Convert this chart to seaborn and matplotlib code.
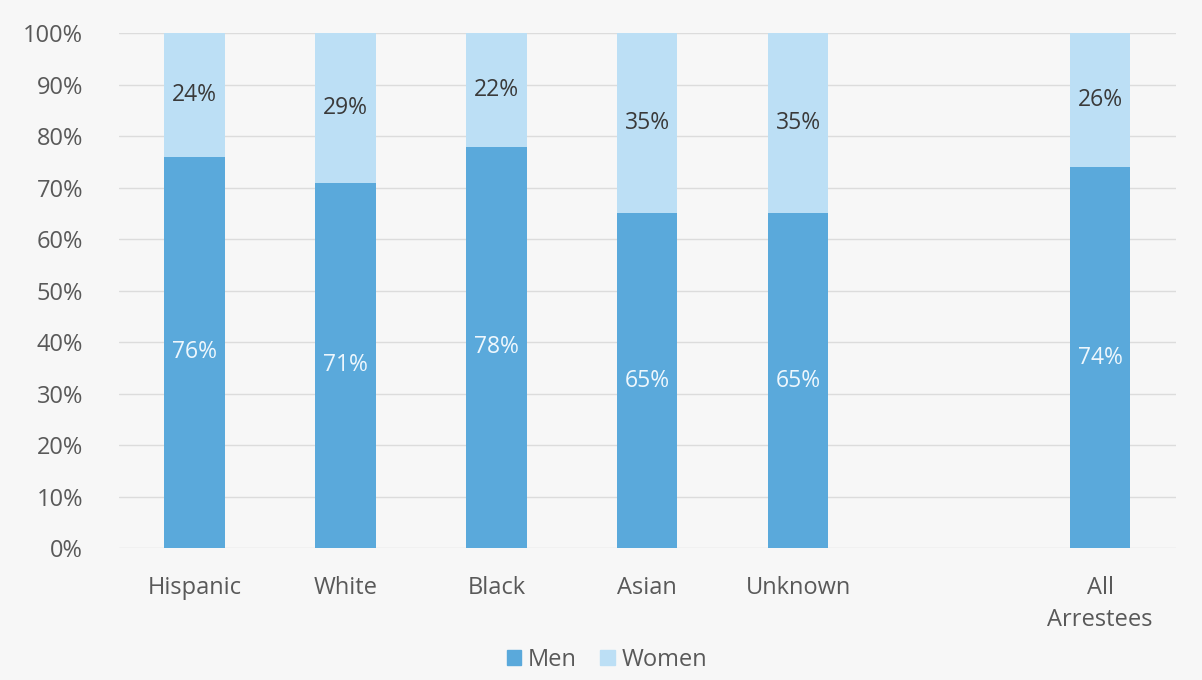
import matplotlib
matplotlib.use("Agg")
import matplotlib.pyplot as plt
import seaborn as sns
import pandas as pd
from matplotlib.patches import Patch

categories = ["Hispanic", "White", "Black", "Asian", "Unknown", "All\nArrestees"]
men = [76, 71, 78, 65, 65, 74]
women = [24, 29, 22, 35, 35, 26]
slot_order = ["Hispanic", "White", "Black", "Asian", "Unknown", " ", "All\nArrestees"]

men_color = "#5aa9db"
women_color = "#bcdff5"
text_gray = "#595959"

df = pd.DataFrame({"group": categories, "Men": men, "Women": women})
df["Total"] = df["Men"] + df["Women"]

sns.set_theme(style="white")
plt.rcParams["font.family"] = ["Open Sans", "DejaVu Sans"]

fig = plt.figure(figsize=(12.02, 6.80), dpi=100, facecolor="#f7f7f7")
ax = fig.add_axes([0.099, 0.194, 0.879, 0.757])
ax.set_facecolor("#f7f7f7")

sns.barplot(data=df, x="group", y="Total", order=slot_order, color=women_color,
            width=0.4, saturation=1, ax=ax, errorbar=None, linewidth=0)
sns.barplot(data=df, x="group", y="Men", order=slot_order, color=men_color,
            width=0.4, saturation=1, ax=ax, errorbar=None, linewidth=0)

for i, cat in enumerate(slot_order):
    if cat not in categories:
        continue
    k = categories.index(cat)
    m, w = men[k], women[k]
    ax.text(i, m / 2, f"{m}%", ha="center", va="center", color="#eef7fd", fontsize=16.5)
    ax.text(i, m + w / 2, f"{w}%", ha="center", va="center", color="#3a3a3a", fontsize=16.5)

ax.set_ylim(0, 100)
ax.set_xlim(-0.5, len(slot_order) - 0.5)
ax.set_yticks(range(0, 101, 10))
ax.set_yticklabels([f"{v}%" for v in range(0, 101, 10)])
ax.yaxis.grid(True, color="#dcdcdc", linewidth=1)
ax.set_axisbelow(True)
for s in ax.spines.values():
    s.set_visible(False)
ax.tick_params(axis="both", length=0, labelsize=17, colors=text_gray)
ax.tick_params(axis="x", pad=20)
ax.tick_params(axis="y", pad=26)
for lbl in ax.get_xticklabels():
    lbl.set_linespacing(1.45)
ax.set_xlabel("")
ax.set_ylabel("")

handles = [Patch(color=men_color, label="Men"), Patch(color=women_color, label="Women")]
fig.legend(handles=handles, loc="center", bbox_to_anchor=(0.505, 0.03), ncol=2,
           frameon=False, fontsize=17, labelcolor=text_gray, handlelength=0.6,
           handleheight=0.6, handletextpad=0.3, columnspacing=1.0)

fig.savefig("out.png", dpi=100, facecolor=fig.get_facecolor())
